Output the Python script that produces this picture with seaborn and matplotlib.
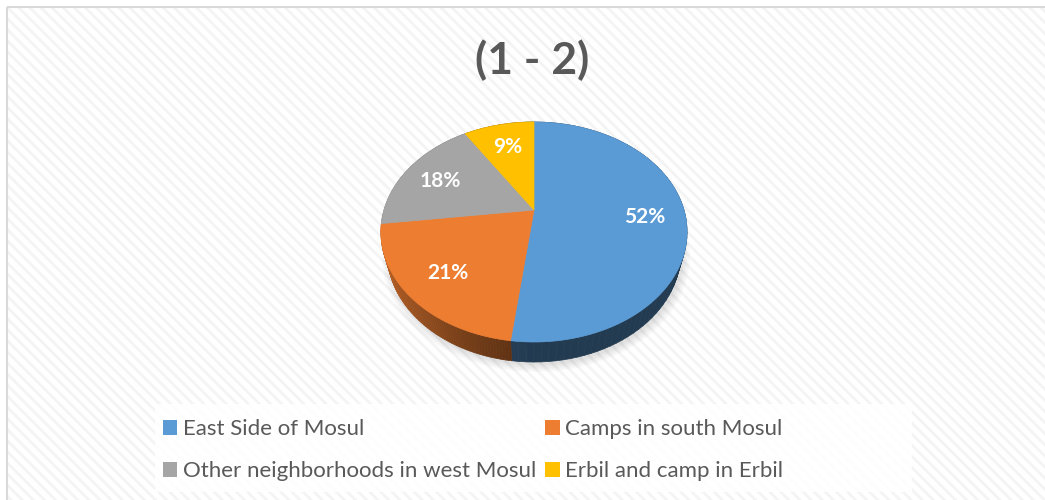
import numpy as np
import matplotlib
matplotlib.use('Agg')
import matplotlib.pyplot as plt
from matplotlib.patches import Rectangle, Polygon, Patch
from matplotlib.collections import PolyCollection
import matplotlib.colors as mcolors
import seaborn as sns

# data
title = '(1 - 2)'
categories = ['East Side of Mosul', 'Camps in south Mosul',
              'Other neighborhoods in west Mosul', 'Erbil and camp in Erbil']
shares = [52, 21, 18, 9]
slice_colors = ['#5B9BD5', '#ED7D31', '#A5A5A5', '#FFC000']

sns.set_style('white')
palette = sns.color_palette(slice_colors)
plt.rcParams['font.family'] = ['Lato', 'DejaVu Sans']
plt.rcParams['hatch.linewidth'] = 2.0

# camera for the tilted pie (fitted by eye, pixel space)
CX, CY = 534, 210
COS_T, SIN_T = 0.71, 0.704
DIST, FOCAL, THICK = 3.55, 532.5, 0.21


def project(phi, z=0.0, r=1.0):
    x = r * np.cos(phi)
    y = r * np.sin(phi)
    depth = DIST + y * COS_T - z * SIN_T
    up = y * SIN_T + z * COS_T
    return CX + FOCAL * x / depth, CY - FOCAL * up / depth


def side_shade(phi):
    # lit from the left, dark towards the front/right
    return 0.38 + 0.42 * np.clip(-np.cos(phi), 0, None) ** 1.3


fig = plt.figure(figsize=(10.45, 5), dpi=100)
ax = fig.add_axes([0, 0, 1, 1])
ax.set_xlim(0, 1045)
ax.set_ylim(500, 0)
ax.axis('off')

# chart area: white with faint diagonal stripes and a grey border
ax.add_patch(Rectangle((7, 7), 1060, 520, facecolor='white', edgecolor='#f4f4f4',
                       hatch='\\\\\\', lw=0, zorder=0))
ax.add_patch(Rectangle((7, 7), 1060, 520, fill=False, edgecolor='#d9d9d9',
                       lw=1.5, zorder=1))

fracs = np.array(shares, dtype=float) / sum(shares)
bounds = np.deg2rad(90 - 360 * np.concatenate([[0], np.cumsum(fracs)]))

# soft shadow under the pie
ring = np.linspace(0, 2 * np.pi, 240)
bx, by = project(ring, -THICK)
for k in range(6):
    s = 1 + 0.01 * k
    sx = CX + (bx - CX) * s + 2
    sy = CY + 10 + (by - CY - 10) * s + 3
    ax.add_patch(Polygon(np.column_stack([sx, sy]), closed=True,
                         facecolor='black', alpha=0.02, lw=0, zorder=2))

# side walls
quads, quad_cols = [], []
for i, col in enumerate(palette):
    phis = np.linspace(bounds[i], bounds[i + 1], 80)
    tx, ty = project(phis, 0.0)
    lx, ly = project(phis, -THICK)
    rgb = np.array(mcolors.to_rgb(col))
    for j in range(len(phis) - 1):
        quads.append([(tx[j], ty[j]), (tx[j + 1], ty[j + 1]),
                      (lx[j + 1], ly[j + 1]), (lx[j], ly[j])])
        quad_cols.append(rgb * side_shade(0.5 * (phis[j] + phis[j + 1])))
ax.add_collection(PolyCollection(quads, facecolors=quad_cols, edgecolors=quad_cols,
                                 linewidths=0.5, zorder=3))

# top faces and labels
for i, col in enumerate(palette):
    phis = np.linspace(bounds[i], bounds[i + 1], 120)
    tx, ty = project(phis, 0.0)
    pts = np.vstack([[CX, CY], np.column_stack([tx, ty])])
    ax.add_patch(Polygon(pts, closed=True, facecolor=col, edgecolor=col,
                         lw=0.5, zorder=4))
    mid = 0.5 * (bounds[i] + bounds[i + 1])
    lx, ly = project(mid, 0.0, 0.73)
    ax.text(lx, ly + 2, f'{shares[i]}%', color='white', fontsize=15,
            fontweight='bold', ha='center', va='center', zorder=5)

ax.text(532, 60, title, fontsize=32, fontweight='bold', color='#595959',
        ha='center', va='center', zorder=5)

# legend
ax.add_patch(Rectangle((155, 404), 757, 88, facecolor='white', alpha=0.85,
                       lw=0, zorder=2))
handles = [Patch(facecolor=c, edgecolor='none', label=l)
           for c, l in zip(palette, categories)]
order = [0, 2, 1, 3]
ax.legend([handles[i] for i in order], [categories[i] for i in order], ncol=2,
          loc='upper left', bbox_to_anchor=(163, 419), bbox_transform=ax.transData,
          frameon=False, fontsize=16, handlelength=0.65, handleheight=0.65,
          handletextpad=0.25, columnspacing=0.4, labelspacing=1.0,
          borderpad=0, borderaxespad=0, labelcolor='#595959')

fig.savefig('out.png', dpi=100)
